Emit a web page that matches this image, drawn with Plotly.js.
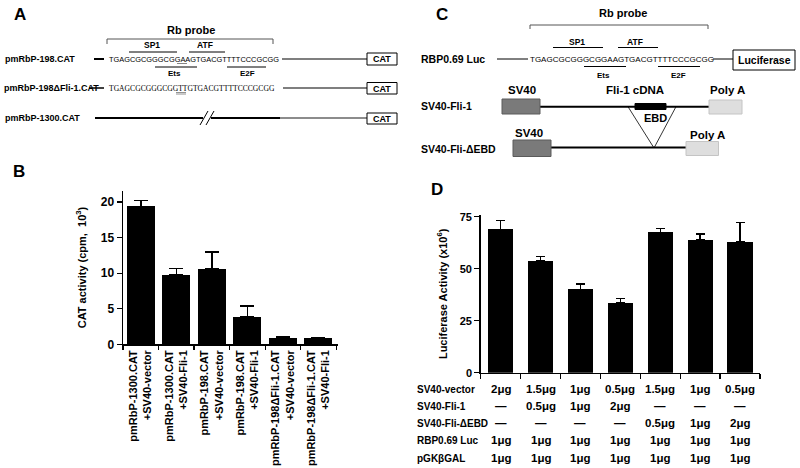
<!DOCTYPE html>
<html><head><meta charset="utf-8">
<script src="https://cdn.plot.ly/plotly-3.0.1.min.js"></script>
<style>html,body{margin:0;padding:0;background:#fff}</style>
</head><body><div id="chart" style="width:800px;height:468px"></div>
<script>
// ---------- DATA ----------
const catConstruct = ["pmRbP-1300.CAT","pmRbP-1300.CAT","pmRbP-198.CAT","pmRbP-198.CAT","pmRbP-198\u0394Fli-1.CAT","pmRbP-198\u0394Fli-1.CAT"];
const catCotransfect = ["+SV40-vector","+SV40-Fli-1","+SV40-vector","+SV40-Fli-1","+SV40-vector","+SV40-Fli-1"];
const catActivity = [19.4, 9.75, 10.6, 3.9, 0.95, 0.85];
const catError = [0.8, 0.9, 2.4, 1.5, 0.12, 0.1];

const lucGroups = ["1","2","3","4","5","6","7"];
const lucActivity = [68.9, 53.8, 40.1, 33.6, 67.5, 63.8, 63.0];
const lucError = [4.2, 2.0, 2.5, 2.0, 1.7, 2.9, 9.1];

const tableRows = ["SV40-vector","SV40-Fli-1","SV40-Fli-\u0394EBD","RBP0.69 Luc","pGK\u03b2GAL"];
const rowVector = ["2\u03bcg","1.5\u03bcg","1\u03bcg","0.5\u03bcg","1.5\u03bcg","1\u03bcg","0.5\u03bcg"];
const rowFli = ["\u2014","0.5\u03bcg","1\u03bcg","2\u03bcg","\u2014","\u2014","\u2014"];
const rowEBD = ["\u2014","\u2014","\u2014","\u2014","0.5\u03bcg","1\u03bcg","2\u03bcg"];
const rowLuc = ["1\u03bcg","1\u03bcg","1\u03bcg","1\u03bcg","1\u03bcg","1\u03bcg","1\u03bcg"];
const rowGal = ["1\u03bcg","1\u03bcg","1\u03bcg","1\u03bcg","1\u03bcg","1\u03bcg","1\u03bcg"];
const tableValues = [rowVector,rowFli,rowEBD,rowLuc,rowGal];

const seqWT = "TGAGCGCGGGCGGAAGTGACGTTTTCCCGCGG";
const seqMut = "TGAGCGCGGGCGGTTGTGACGTTTTCCCGCGG";

// ---------- LAYOUT HELPERS ----------
const W=800,H=468;
const X=p=>p/W, Y=p=>1-p/H;
const FONT="Liberation Sans, Arial, sans-serif";
const shapes=[], ann=[];
function ln(x0,y0,x1,y1,w,c){shapes.push({type:'line',xref:'paper',yref:'paper',x0:X(x0),y0:Y(y0),x1:X(x1),y1:Y(y1),line:{color:c||'#000',width:w||1}});}
function rect(x0,y0,x1,y1,fill,lc,lw){shapes.push({type:'rect',xref:'paper',yref:'paper',x0:X(x0),y0:Y(y0),x1:X(x1),y1:Y(y1),fillcolor:fill||'rgba(0,0,0,0)',line:{color:lc||'#000',width:lw===undefined?1:lw}});}
function tx(x,y,t,size,opt){opt=opt||{};ann.push({xref:'paper',yref:'paper',x:X(x),y:Y(y),text:t,showarrow:false,xanchor:opt.xa||'center',yanchor:'middle',font:{family:opt.fam||FONT,size:size,color:'#000',weight:opt.nb?'normal':'bold'}});}

// ---------- PANEL A ----------
tx(20,14,"A",17);
tx(191,30,"Rb probe",11);
ln(107,39,273,39,1,'#555');ln(107,39,107,44,1,'#555');ln(273,39,273,44,1,'#555');
tx(152,45,"SP1",8.5); ln(129,52,177,52,1);
tx(205,45,"ATF",8.5); ln(189,52,225,52,1);
tx(3,59,"pmRbP-198.CAT",9,{xa:'left'});
ln(94,59,104,59,2);
tx(107,59.5,seqWT,7.4,{xa:'left',nb:true});
ln(177,63.5,187,63.5,0.8,'#666');
ln(282,59,367,59,1.2);
rect(367,53,397,65,'#fff','#000',1); tx(382,59,"CAT",9);
ln(155,67,197,67,1); tx(174,73,"Ets",8);
ln(227,67,266,67,1); tx(247,73,"E2F",8);
tx(2,88,"pmRbP-198\u0394Fli-1.CAT",9,{xa:'left'});
ln(89,88,104,88,1.5);
tx(107,88.5,seqMut,7.6,{xa:'left',nb:true,fam:"Liberation Serif, Times New Roman, serif"});
ln(176,92.5,186,92.5,0.8,'#777');ln(176,94,186,94,0.8,'#777');
ln(283,88,367,88,1.2);
rect(367,82.5,397,94,'#fff','#000',1); tx(382,88.5,"CAT",9);
tx(3,118,"pmRbP-1300.CAT",9,{xa:'left'});
ln(95,118,203,118,2); ln(200,125,208,111,1); ln(206,125,214,111,1);
ln(211,118,280,118,2); ln(280,118,367,118,1.5,'#666');
rect(367,113,397,124,'#fff','#000',1); tx(382,118.5,"CAT",9);

// ---------- PANEL B / D labels ----------
tx(19,171,"B",17);
tx(437,189,"D",17);

// ---------- PANEL C ----------
tx(442,14,"C",17);
tx(623,13,"Rb probe",11);
ln(530,25,708,25,1,'#555');ln(530,25,530,29,1,'#555');ln(708,25,708,29,1,'#555');
tx(577,41.5,"SP1",8.5); ln(553,47.5,603,47.5,1);
tx(635,41.5,"ATF",8.5); ln(618,47.5,658,47.5,1);
tx(419,59,"RBP0.69 Luc",10.5,{xa:'left'});
ln(497,59,528,59,1);
tx(528,59.5,seqWT,8.0,{xa:'left',nb:true});
ln(713,59,733,59,1);
rect(733,50,795,70,'#fff','#000',1); tx(764,60,"Luciferase",10.5);
ln(584,66.5,626,66.5,1); tx(603,75,"Ets",8);
ln(658,66.5,700,66.5,1); tx(678,75,"E2F",8);
tx(522,90.5,"SV40",11.5); tx(635,90.5,"Fli-1 cDNA",11.5); tx(727,90.5,"Poly A",11.5);
tx(419,106.5,"SV40-Fli-1",10.5,{xa:'left'});
ln(540,106.7,709,106.7,2);
rect(502,99,540,114,'#7a7a7a','#5a5a5a',1);
rect(635,103.5,666,109.5,'#000','#000',1);
ln(628,106.7,654,148,0.8); ln(676,106.7,654,148,0.8);
tx(655,118,"EBD",11);
rect(709,100,742,114,'#dedede','#c4c4c4',1);
tx(529,133,"SV40",11.5); tx(707,135,"Poly A",11.5);
tx(419,148.5,"SV40-Fli-\u0394EBD",10.5,{xa:'left'});
ln(551,147.5,686,147.5,2);
rect(513,140,551,156.5,'#7a7a7a','#5a5a5a',1);
rect(686,141.5,718.5,155.5,'#dedede','#c4c4c4',1);

// ---------- TABLE under D ----------
const rowY=[389,406,423,440,458];
tableRows.forEach((r,i)=>{
  tx(415,rowY[i],r,10,{xa:'left'});
  tableValues[i].forEach((v,j)=>{
    ann.push({xref:'x2',yref:'paper',x:j,y:Y(rowY[i]),text:v,showarrow:false,xanchor:'center',yanchor:'middle',font:{family:FONT,size:11.5,color:'#000',weight:'bold'}});
  });
});

// ---------- TRACES ----------
const bCats = catConstruct.map((c,i)=>c+"<br>"+catCotransfect[i]);
const traces=[
 {type:'bar',x:bCats,y:catActivity,xaxis:'x',yaxis:'y',width:0.79,marker:{color:'#000'},
  error_y:{type:'data',array:catError,arrayminus:catError.map(()=>0),symmetric:false,color:'#000',thickness:1.5,width:7},hoverinfo:'skip'},
 {type:'bar',x:lucGroups,y:lucActivity,xaxis:'x2',yaxis:'y2',width:0.63,marker:{color:'#000'},
  error_y:{type:'data',array:lucError,arrayminus:lucError.map(()=>0),symmetric:false,color:'#000',thickness:1.5,width:4.5},hoverinfo:'skip'}
];

const tickf={family:FONT,size:11,color:'#000',weight:'bold'};
const layout={
 width:800,height:468,margin:{l:0,r:0,t:0,b:0},showlegend:false,
 paper_bgcolor:'#fff',plot_bgcolor:'rgba(0,0,0,0)',bargap:0,
 xaxis:{domain:[X(123),X(338)],anchor:'y',type:'category',range:[-0.5,5.55],tickson:'boundaries',
   showline:true,linecolor:'#000',linewidth:1.5,ticks:'outside',ticklen:4,tickwidth:1.2,tickcolor:'#000',
   tickangle:-90,tickfont:{family:FONT,size:11,color:'#000',weight:'bold'},showgrid:false,zeroline:false,automargin:false},
 yaxis:{domain:[Y(344.3),Y(190.7)],anchor:'x',range:[0,21.6],tickvals:[0,5,10,15,20],
   showline:true,linecolor:'#000',linewidth:1.5,ticks:'outside',ticklen:5,tickwidth:1.2,tickcolor:'#000',
   tickfont:{family:FONT,size:12,color:'#000',weight:'bold'},showgrid:false,zeroline:false,automargin:false,
   title:{text:"CAT activity (cpm,  10<sup>3</sup>)",font:{family:FONT,size:11,color:'#000',weight:'bold'},standoff:12}},
 xaxis2:{domain:[X(480.7),X(760)],anchor:'y2',type:'category',range:[-0.5,6.5],tickson:'boundaries',
   showline:true,linecolor:'#000',linewidth:1.5,ticks:'outside',ticklen:5,tickwidth:1.2,tickcolor:'#000',
   showticklabels:false,showgrid:false,zeroline:false,automargin:false},
 yaxis2:{domain:[Y(372.7),Y(215)],anchor:'x2',range:[0,75.8],tickvals:[0,25,50,75],
   showline:true,linecolor:'#000',linewidth:1.5,ticks:'outside',ticklen:5,tickwidth:1.2,tickcolor:'#000',
   tickfont:tickf,showgrid:false,zeroline:false,automargin:false,
   title:{text:"Luciferase Activity (x10<sup>6</sup>)",font:{family:FONT,size:11,color:'#000',weight:'bold'},standoff:10}},
 shapes:shapes,annotations:ann
};
Plotly.newPlot('chart',traces,layout,{staticPlot:true,displayModeBar:false});
</script></body></html>
